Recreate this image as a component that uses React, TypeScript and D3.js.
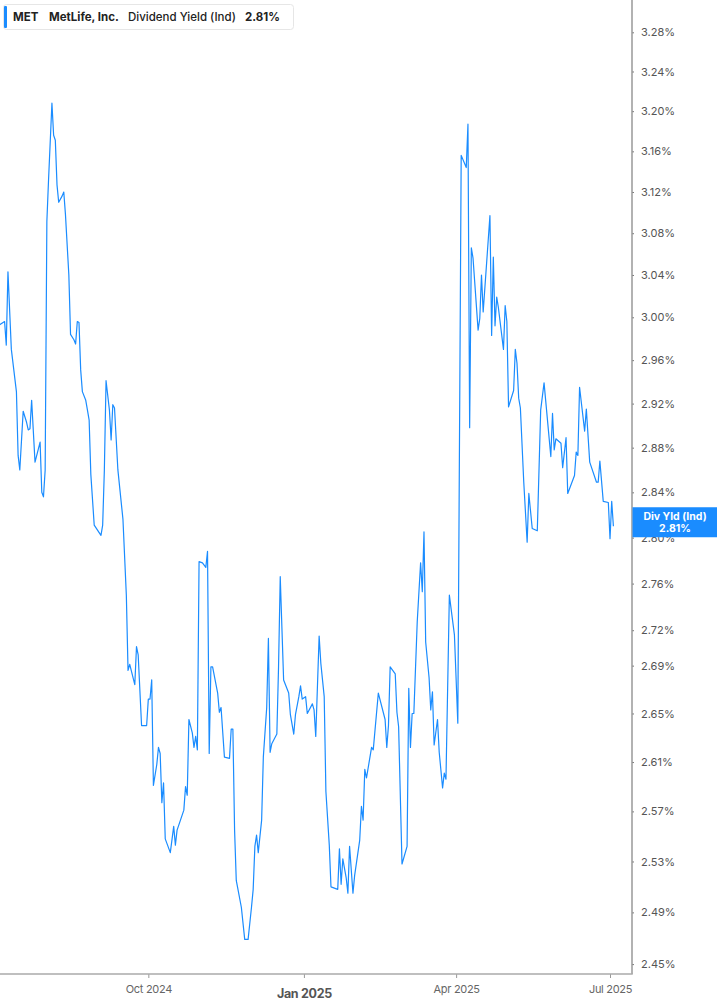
import React, { useEffect, useRef } from "react";
import * as d3 from "d3";

// Dividend yield (indicated), %
const dates: string[] = [
  "2024-07-05", "2024-07-08", "2024-07-09", "2024-07-10", "2024-07-12", "2024-07-15", "2024-07-16", "2024-07-17",
  "2024-07-19", "2024-07-21", "2024-07-22", "2024-07-23", "2024-07-24", "2024-07-26", "2024-07-29", "2024-07-30",
  "2024-07-31", "2024-08-01", "2024-08-02", "2024-08-03", "2024-08-05", "2024-08-06", "2024-08-07", "2024-08-08",
  "2024-08-09", "2024-08-11", "2024-08-12", "2024-08-13", "2024-08-15", "2024-08-16", "2024-08-18", "2024-08-19",
  "2024-08-20", "2024-08-21", "2024-08-22", "2024-08-23", "2024-08-25", "2024-08-26", "2024-08-27", "2024-08-28",
  "2024-08-30", "2024-09-03", "2024-09-04", "2024-09-05", "2024-09-06", "2024-09-08", "2024-09-09", "2024-09-10",
  "2024-09-11", "2024-09-13", "2024-09-16", "2024-09-18", "2024-09-19", "2024-09-20", "2024-09-23", "2024-09-24",
  "2024-09-25", "2024-09-27", "2024-09-30", "2024-10-01", "2024-10-02", "2024-10-03", "2024-10-04", "2024-10-06",
  "2024-10-07", "2024-10-08", "2024-10-09", "2024-10-10", "2024-10-11", "2024-10-14", "2024-10-16", "2024-10-17",
  "2024-10-18", "2024-10-20", "2024-10-22", "2024-10-23", "2024-10-24", "2024-10-25", "2024-10-27", "2024-10-28",
  "2024-10-29", "2024-10-30", "2024-10-31", "2024-11-02", "2024-11-04", "2024-11-05", "2024-11-06", "2024-11-07",
  "2024-11-08", "2024-11-11", "2024-11-12", "2024-11-13", "2024-11-15", "2024-11-18", "2024-11-19", "2024-11-20",
  "2024-11-21", "2024-11-22", "2024-11-25", "2024-11-27", "2024-11-29", "2024-12-01", "2024-12-02", "2024-12-03",
  "2024-12-04", "2024-12-05", "2024-12-07", "2024-12-08", "2024-12-10", "2024-12-11", "2024-12-12", "2024-12-13",
  "2024-12-16", "2024-12-17", "2024-12-18", "2024-12-20", "2024-12-23", "2024-12-24", "2024-12-26", "2024-12-27",
  "2024-12-29", "2024-12-30", "2024-12-31", "2025-01-02", "2025-01-03", "2025-01-06", "2025-01-07", "2025-01-08",
  "2025-01-10", "2025-01-11", "2025-01-13", "2025-01-14", "2025-01-16", "2025-01-17", "2025-01-21", "2025-01-22",
  "2025-01-23", "2025-01-24", "2025-01-26", "2025-01-27", "2025-01-28", "2025-01-30", "2025-01-31", "2025-02-03",
  "2025-02-04", "2025-02-05", "2025-02-06", "2025-02-07", "2025-02-10", "2025-02-11", "2025-02-14", "2025-02-18",
  "2025-02-19", "2025-02-20", "2025-02-21", "2025-02-24", "2025-02-25", "2025-02-26", "2025-02-28", "2025-03-03",
  "2025-03-04", "2025-03-05", "2025-03-06", "2025-03-07", "2025-03-09", "2025-03-11", "2025-03-12", "2025-03-13",
  "2025-03-14", "2025-03-16", "2025-03-17", "2025-03-18", "2025-03-19", "2025-03-21", "2025-03-22", "2025-03-24",
  "2025-03-25", "2025-03-26", "2025-03-28", "2025-03-31", "2025-04-02", "2025-04-04", "2025-04-07", "2025-04-08",
  "2025-04-09", "2025-04-10", "2025-04-11", "2025-04-14", "2025-04-15", "2025-04-16", "2025-04-17", "2025-04-21",
  "2025-04-22", "2025-04-23", "2025-04-24", "2025-04-25", "2025-04-26", "2025-04-29", "2025-04-30", "2025-05-01",
  "2025-05-02", "2025-05-05", "2025-05-06", "2025-05-07", "2025-05-08", "2025-05-09", "2025-05-11", "2025-05-13",
  "2025-05-14", "2025-05-16", "2025-05-19", "2025-05-21", "2025-05-23", "2025-05-27", "2025-05-28", "2025-05-29",
  "2025-05-30", "2025-06-02", "2025-06-03", "2025-06-05", "2025-06-06", "2025-06-10", "2025-06-11", "2025-06-12",
  "2025-06-13", "2025-06-16", "2025-06-17", "2025-06-19", "2025-06-23", "2025-06-24", "2025-06-25", "2025-06-27",
  "2025-06-30", "2025-07-01", "2025-07-02", "2025-07-03",
];

const yields: number[] = [
  2.993, 2.996, 2.974, 3.043, 2.970, 2.931, 2.873, 2.860,
  2.913, 2.903, 2.896, 2.897, 2.923, 2.867, 2.885, 2.840,
  2.836, 2.860, 3.091, 3.132, 3.208, 3.176, 3.171, 3.127,
  3.110, 3.116, 3.120, 3.098, 3.040, 2.984, 2.979, 2.975,
  2.996, 2.995, 2.951, 2.931, 2.923, 2.914, 2.905, 2.856,
  2.811, 2.802, 2.811, 2.860, 2.941, 2.914, 2.887, 2.919,
  2.916, 2.860, 2.816, 2.750, 2.686, 2.691, 2.674, 2.706,
  2.699, 2.640, 2.640, 2.662, 2.662, 2.678, 2.591, 2.608,
  2.622, 2.617, 2.577, 2.593, 2.548, 2.537, 2.558, 2.543,
  2.555, 2.563, 2.571, 2.590, 2.583, 2.645, 2.634, 2.622,
  2.631, 2.620, 2.779, 2.778, 2.774, 2.788, 2.617, 2.689,
  2.689, 2.667, 2.651, 2.655, 2.614, 2.613, 2.637, 2.637,
  2.555, 2.515, 2.494, 2.469, 2.469, 2.494, 2.508, 2.542,
  2.551, 2.537, 2.563, 2.614, 2.655, 2.713, 2.618, 2.625,
  2.633, 2.689, 2.766, 2.678, 2.667, 2.649, 2.633, 2.649,
  2.664, 2.673, 2.662, 2.664, 2.650, 2.658, 2.653, 2.631,
  2.715, 2.692, 2.664, 2.586, 2.543, 2.510, 2.508, 2.540,
  2.512, 2.532, 2.517, 2.505, 2.542, 2.505, 2.519, 2.547,
  2.574, 2.563, 2.604, 2.597, 2.622, 2.620, 2.667, 2.645,
  2.622, 2.640, 2.689, 2.683, 2.651, 2.639, 2.528, 2.542,
  2.671, 2.622, 2.650, 2.650, 2.727, 2.778, 2.753, 2.805,
  2.710, 2.680, 2.653, 2.668, 2.624, 2.645, 2.618, 2.589,
  2.601, 2.596, 2.750, 2.716, 2.642, 3.156, 3.144, 3.187,
  2.898, 3.066, 3.056, 2.988, 2.999, 3.040, 3.005, 3.097,
  2.983, 3.057, 2.992, 3.019, 3.009, 2.970, 3.011, 2.996,
  2.917, 2.932, 2.970, 2.957, 2.925, 2.916, 2.849, 2.796,
  2.839, 2.808, 2.806, 2.914, 2.939, 2.872, 2.911, 2.878,
  2.888, 2.884, 2.862, 2.889, 2.839, 2.855, 2.876, 2.873,
  2.935, 2.895, 2.915, 2.867, 2.849, 2.849, 2.868, 2.832,
  2.831, 2.799, 2.832, 2.810,
];

const yTicks: number[] = [3.28, 3.24, 3.2, 3.16, 3.12, 3.08, 3.04, 3.0, 2.96, 2.92, 2.88, 2.84, 2.8, 2.76, 2.72, 2.69, 2.65, 2.61, 2.57, 2.53, 2.49, 2.45];
const xTicks: string[] = ["2024-10-01", "2025-01-01", "2025-04-01", "2025-07-01"];

const ticker = "MET";
const company = "MetLife, Inc.";
const metric = "Dividend Yield (Ind)";
const badgeLabel = "Div Yld (Ind)";

const W = 717;
const H = 1005;
const plotRight = 632;
const plotBottom = 974;
const blue = "#1a8cff";
const font = "Inter, 'Noto Sans', sans-serif";

const parse = d3.timeParse("%Y-%m-%d");

export default function App() {
  const svgRef = useRef<SVGSVGElement>(null);

  useEffect(() => {
    if (!svgRef.current) return;
    const svg = d3.select(svgRef.current);
    svg.selectAll("*").remove();

    const data = dates.map((d, i) => ({ date: parse(d) as Date, value: yields[i] }));
    const last = data[data.length - 1];

    const x = d3.scaleTime()
      .domain([new Date(2024, 6, 5, 7), new Date(2025, 6, 14)])
      .range([0, plotRight]);

    const y = d3.scaleLog()
      .domain([3.28, 2.45])
      .range([32.3, 964.1]);

    svg.append("defs").append("clipPath").attr("id", "plot-clip")
      .append("rect")
      .attr("x", 0).attr("y", 0)
      .attr("width", plotRight).attr("height", plotBottom);

    // Line
    const line = d3.line<{ date: Date; value: number }>()
      .x(d => x(d.date))
      .y(d => y(d.value));

    svg.append("path")
      .datum(data)
      .attr("clip-path", "url(#plot-clip)")
      .attr("fill", "none")
      .attr("stroke", blue)
      .attr("stroke-width", 1.2)
      .attr("stroke-linejoin", "round")
      .attr("d", line);

    // Right axis
    const yAxis = svg.append("g")
      .attr("transform", `translate(${plotRight}, 0)`)
      .call(d3.axisRight(y).tickValues(yTicks).tickSize(2).tickPadding(7)
        .tickFormat(d => `${(+d).toFixed(2)}%`));
    yAxis.select(".domain").remove();
    yAxis.selectAll(".tick line").attr("stroke", "#777");
    yAxis.selectAll(".tick text")
      .attr("fill", "#555")
      .style("font-family", font)
      .style("font-size", "11px");

    svg.append("line")
      .attr("x1", plotRight).attr("x2", plotRight)
      .attr("y1", 0).attr("y2", plotBottom)
      .attr("stroke", "#999").attr("stroke-width", 1.5);

    // Bottom axis
    const xAxis = svg.append("g")
      .attr("transform", `translate(0, ${plotBottom})`)
      .call(d3.axisBottom(x).tickValues(xTicks.map(t => parse(t) as Date)).tickSize(4).tickPadding(7)
        .tickFormat(d => d3.timeFormat("%b %Y")(d as Date)));
    xAxis.select(".domain").remove();
    xAxis.selectAll(".tick line").attr("stroke", "#999");
    xAxis.selectAll(".tick text")
      .attr("fill", "#666")
      .style("font-family", font)
      .style("font-size", "11px")
      .style("letter-spacing", "-0.3px")
      .each(function (d) {
        if ((d as Date).getMonth() === 0) {
          d3.select(this)
            .attr("dy", "1.05em")
            .style("font-size", "12.5px")
            .style("font-weight", "700")
            .attr("fill", "#555");
        }
      });

    svg.append("line")
      .attr("x1", 0).attr("x2", plotRight + 0.75)
      .attr("y1", plotBottom).attr("y2", plotBottom)
      .attr("stroke", "#aaa").attr("stroke-width", 1.5);

    // Last value badge
    const by = y(last.value);
    svg.append("rect")
      .attr("x", plotRight + 0.5).attr("y", by - 19)
      .attr("width", W - plotRight).attr("height", 30)
      .attr("fill", blue);
    svg.append("text")
      .attr("x", 675).attr("y", by - 6.5)
      .attr("text-anchor", "middle")
      .attr("fill", "#fff")
      .style("font-family", font).style("font-size", "10.5px").style("font-weight", "700")
      .text(badgeLabel);
    svg.append("text")
      .attr("x", 675).attr("y", by + 6)
      .attr("text-anchor", "middle")
      .attr("fill", "#fff")
      .style("font-family", font).style("font-size", "10.5px").style("font-weight", "700")
      .text(`${last.value.toFixed(2)}%`);

    // Legend
    const legend = svg.append("g");
    legend.append("rect")
      .attr("x", 3.5).attr("y", 4.5)
      .attr("width", 290).attr("height", 25)
      .attr("rx", 3)
      .attr("fill", "#fff")
      .attr("stroke", "#e6e6e6");
    legend.append("rect")
      .attr("x", 4).attr("y", 6)
      .attr("width", 3).attr("height", 22)
      .attr("rx", 1)
      .attr("fill", blue);
    const lt = legend.append("text")
      .attr("y", 21)
      .attr("fill", "#222")
      .style("font-family", font)
      .style("font-size", "11.5px");
    lt.append("tspan").attr("x", 13).style("font-weight", "700").text(ticker);
    lt.append("tspan").attr("x", 49).style("font-weight", "700").text(company);
    lt.append("tspan").attr("x", 128).style("font-weight", "500").text(metric);
    lt.append("tspan").attr("x", 245).style("font-weight", "700").text(`${last.value.toFixed(2)}%`);
  }, []);

  return (
    <div style={{ position: "absolute", left: 0, top: 0, background: "#fff" }}>
      <svg ref={svgRef} width={W} height={H} style={{ display: "block" }} />
    </div>
  );
}
